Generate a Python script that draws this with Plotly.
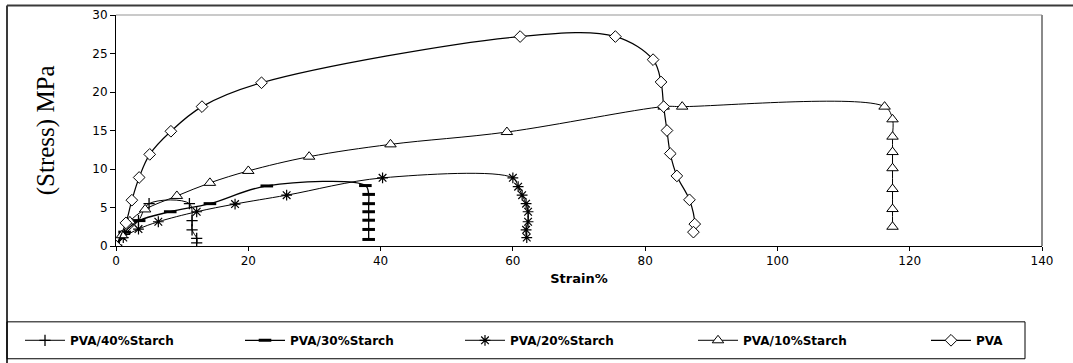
import plotly.graph_objects as go

# Stress-strain curves: strain (%) vs stress (MPa)
series_names = ["PVA/40%Starch", "PVA/30%Starch", "PVA/20%Starch", "PVA/10%Starch", "PVA"]

strain_40 = [0, 1.3, 3.4, 5.0, 11.1, 11.5, 11.5, 12.2, 12.2]
stress_40 = [0, 1.5, 3.3, 5.5, 5.5, 3.3, 2.1, 1.0, 0.4]

strain_30 = [0, 1.3, 3.5, 8.2, 14.2, 22.8, 37.7, 38.2, 38.2, 38.2, 38.2, 38.2, 38.2]
stress_30 = [0, 1.8, 3.3, 4.45, 5.5, 7.8, 7.85, 6.7, 5.5, 4.45, 3.35, 2.15, 0.85]

strain_20 = [0, 1.1, 3.4, 6.4, 12.2, 18.0, 25.8, 40.3, 60.0, 60.8, 61.4, 62.0, 62.3, 62.3, 62.0, 62.1]
stress_20 = [0, 1.1, 2.2, 3.15, 4.45, 5.45, 6.6, 8.85, 8.85, 7.7, 6.6, 5.5, 4.45, 3.15, 2.1, 1.1]

strain_10 = [0, 0.9, 2.1, 4.4, 9.2, 14.2, 20.0, 29.2, 41.5, 59.1, 82.8, 85.6, 116.2,
             117.4, 117.4, 117.4, 117.4, 117.4, 117.4, 117.4]
stress_10 = [0, 1.4, 3.2, 4.75, 6.5, 8.2, 9.75, 11.6, 13.2, 14.8, 18.1, 18.1, 18.1,
             16.45, 14.2, 12.2, 10.1, 7.4, 4.8, 2.5]

strain_0 = [0, 1.5, 2.4, 3.5, 5.1, 8.3, 13.0, 22.0, 61.1, 75.5, 81.2, 82.4, 82.8, 83.3,
            83.8, 84.8, 86.7, 87.5, 87.3]
stress_0 = [0, 3.0, 5.95, 8.9, 11.9, 14.9, 18.1, 21.2, 27.2, 27.2, 24.2, 21.3, 18.1, 15.0,
            12.0, 9.1, 6.0, 2.85, 1.8]

x_ticks = [0, 20, 40, 60, 80, 100, 120, 140]
y_ticks = [0, 5, 10, 15, 20, 25, 30]

W, H = 1073, 363
L, R, T, B = 116, 1042, 14.5, 246  # plot-area edges in pixels


def px(xp):
    return (xp - L) / (R - L)


def py(yp):
    return (B - yp) / (B - T)


styles = [
    dict(symbol="cross-thin-open", size=8, color="black", line=dict(width=1.3, color="black")),
    dict(symbol="line-ew-open", size=9, color="black", line=dict(width=3, color="black")),
    dict(symbol="asterisk-open", size=9, color="black", line=dict(width=1.2, color="black")),
    dict(symbol="triangle-up", size=10, color="white", line=dict(width=1, color="black")),
    dict(symbol="diamond", size=9, color="white", line=dict(width=1, color="black")),
]
line_widths = [1, 1.3, 1, 1, 1.2]
xs = [strain_40, strain_30, strain_20, strain_10, strain_0]
ys = [stress_40, stress_30, stress_20, stress_10, stress_0]

# each series gets its own legend box so the entries sit at fixed positions in the key row
legend_ids = ["legend", "legend2", "legend3", "legend4", "legend5"]
legend_text_x = [72, 292, 512, 745, 978]

fig = go.Figure()
for name, x, y, mk, lw, lg in zip(series_names, xs, ys, styles, line_widths, legend_ids):
    fig.add_trace(go.Scatter(
        x=x, y=y, name=name, mode="lines+markers", legend=lg,
        line=dict(color="black", width=lw, shape="spline", smoothing=1),
        marker=mk,
    ))

tick_font = dict(family="DejaVu Sans", size=12, color="black")

fig.update_xaxes(
    range=[0, 140], tickvals=x_ticks, ticks="outside", ticklen=4, tickcolor="black",
    showline=True, linecolor="black", linewidth=1, showgrid=False, zeroline=False,
    tickfont=tick_font,
    title=dict(text="<b>Strain%</b>", font=dict(family="DejaVu Sans", size=13, color="black"),
               standoff=6),
)
fig.update_yaxes(
    range=[0, 30], tickvals=y_ticks, ticks="outside", ticklen=5, tickcolor="black",
    showline=True, linecolor="black", linewidth=1, showgrid=False, zeroline=False,
    tickfont=tick_font,
)

shapes = [
    # plot-area border (top and right)
    dict(type="line", xref="paper", yref="paper", x0=0, x1=1, y0=1, y1=1,
         line=dict(color="#b8b8b8", width=1.5)),
    dict(type="line", xref="paper", yref="paper", x0=1, x1=1, y0=0, y1=1,
         line=dict(color="#8a8a8a", width=2)),
    # chart frame
    dict(type="line", xref="paper", yref="paper", x0=px(7), x1=px(W + 2), y0=py(5), y1=py(5),
         line=dict(color="#3a3a3a", width=2)),
    dict(type="line", xref="paper", yref="paper", x0=px(7), x1=px(7), y0=py(5), y1=py(H + 2),
         line=dict(color="#3a3a3a", width=2)),
    # legend box
    dict(type="rect", xref="paper", yref="paper", x0=px(7), x1=px(1025), y0=py(322), y1=py(359),
         line=dict(color="black", width=1)),
]

legend_font = dict(family="DejaVu Sans", size=12, color="black", weight="bold")
legends = {}
for lg, tx in zip(legend_ids, legend_text_x):
    legends[lg] = dict(
        orientation="h", x=px(tx - 52), xanchor="left", y=py(340.5), yanchor="middle",
        font=legend_font, itemwidth=40,
        bgcolor="rgba(0,0,0,0)", borderwidth=0,
    )

fig.update_layout(
    width=W, height=H,
    margin=dict(l=L, r=W - R, t=T, b=H - B, autoexpand=False),
    paper_bgcolor="white", plot_bgcolor="white",
    shapes=shapes,
    showlegend=True,
    annotations=[
        dict(text="(Stress) MPa", xref="paper", yref="paper", x=px(46), y=py(130),
             textangle=-90, showarrow=False, xanchor="center", yanchor="middle",
             font=dict(family="Liberation Serif", size=25, color="black")),
    ],
    **legends,
)

fig.write_html("out.html")
